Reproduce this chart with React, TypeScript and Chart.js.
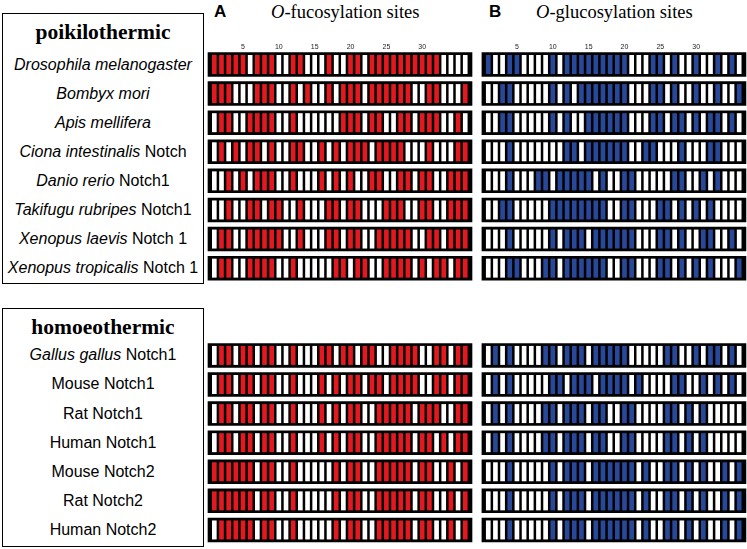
import React, { useEffect, useRef } from "react";
import { Chart, registerables } from "chart.js";
Chart.register(...registerables);

// ---------- data ----------
const CELL_COUNT = 36;
const TICK_VALUES = [5, 10, 15, 20, 25, 30];

const POIKILO_SPECIES = [
  "Drosophila melanogaster",
  "Bombyx mori",
  "Apis mellifera",
  "Ciona intestinalis",
  "Danio rerio",
  "Takifugu rubripes",
  "Xenopus laevis",
  "Xenopus tropicalis",
];
const POIKILO_SUFFIX = ["", "", "", "Notch", "Notch1", "Notch1", "Notch 1", "Notch 1"];

const HOMEO_SPECIES = ["Gallus gallus", "", "", "", "", "", ""];
const HOMEO_SUFFIX = [
  "Notch1",
  "Mouse Notch1",
  "Rat Notch1",
  "Human Notch1",
  "Mouse Notch2",
  "Rat Notch2",
  "Human Notch2",
];

// 1 = site present (coloured), 0 = absent (white)
const FUCO_POIKILO = [
  "111110111001100010011011111111110000",
  "111000111001010010111011111100110001",
  "011001111001000000111011001101110010",
  "010101101001100101011101111000100011",
  "001010111001000101010011001101100111",
  "001001101100100011011000111001100111",
  "011001111100100011011001111100110111",
  "011001111001000001101100111101011011",
];
const GLUCO_POIKILO = [
  "100110000101111111110001101001001010",
  "001100000101011111110001101001001001",
  "001100000101001111110001101101011010",
  "000100000001101111110011000100011000",
  "000100011011111010011000001100101000",
  "001100000111111110011000110101010000",
  "000100000101110111111000110100110010",
  "000110001101111110011000110101010001",
];
const FUCO_HOMEO = [
  "011011011001000110110110011110011011",
  "011011011001000101011011011110011011",
  "011011011001000101011001111101110011",
  "011011011001000101011001111101101011",
  "111111011001000001011001111101100101",
  "111111011001000001011001111101100101",
  "011111011001000001011001111101100101",
];
const GLUCO_HOMEO = [
  "010100001101110111110000011001011010",
  "010100000110111011110100001100101010",
  "010100001101110110011000011010100000",
  "010100001101110110011000011010100000",
  "000100000101110111111010011010100101",
  "000100000101110111111010011010100101",
  "000100000101110111111010011010100101",
];

// ---------- geometry helpers (layout only) ----------
const POIKILO_ROWS = POIKILO_SPECIES.map((_, i) => i);
const HOMEO_ROWS = HOMEO_SUFFIX.map((_, i) => i + 10);
const PANEL_B_OFFSET = 38.21;
const Y_MIN = -0.43;
const Y_MAX = 16.655;
const CANVAS_TOP = 36;
const AXIS_H = 16;
const CANVAS_H = 513;
const PX_PER_ROW = (CANVAS_H - AXIS_H) / (Y_MAX - Y_MIN);
const rowPx = (r: number) => CANVAS_TOP + AXIS_H + (r - Y_MIN) * PX_PER_ROW;

const RED = "#e3191f";
const BLUE = "#28489a";

function buildDatasets() {
  const boxes: any[] = [];
  const red: any[] = [];
  const blue: any[] = [];
  const white: any[] = [];
  const addPanel = (rows: string[], rowIdx: number[], offset: number, target: any[]) => {
    rows.forEach((s, k) => {
      const r = rowIdx[k];
      boxes.push({ x: 18.53 + offset, y: [r - 0.41, r + 0.41] });
      for (let c = 0; c < CELL_COUNT; c++) {
        const pt = { x: c + 1 + offset, y: [r - 0.315, r + 0.315] };
        if (s[c] === "1") target.push(pt);
        else white.push(pt);
      }
    });
  };
  addPanel(FUCO_POIKILO, POIKILO_ROWS, 0, red);
  addPanel(FUCO_HOMEO, HOMEO_ROWS, 0, red);
  addPanel(GLUCO_POIKILO, POIKILO_ROWS, PANEL_B_OFFSET, blue);
  addPanel(GLUCO_HOMEO, HOMEO_ROWS, PANEL_B_OFFSET, blue);
  return [
    { label: "box", data: boxes, backgroundColor: "#000", barThickness: 264, order: 3 },
    { label: "fucose", data: red, backgroundColor: RED, barThickness: 4, order: 1 },
    { label: "glucose", data: blue, backgroundColor: BLUE, barThickness: 4, order: 1 },
    { label: "none", data: white, backgroundColor: "#ffffff", barThickness: 4, order: 1 },
  ];
}

function GridChart() {
  const ref = useRef<HTMLCanvasElement | null>(null);
  useEffect(() => {
    if (!ref.current) return;
    const tickPositions = [
      ...TICK_VALUES,
      ...TICK_VALUES.map((t) => t + PANEL_B_OFFSET),
    ];
    const chart = new Chart(ref.current, {
      type: "bar",
      data: { datasets: buildDatasets() as any },
      options: {
        animation: false,
        responsive: false,
        devicePixelRatio: 1,
        layout: { padding: 0 },
        plugins: { legend: { display: false }, tooltip: { enabled: false } },
        datasets: { bar: { grouped: false } } as any,
        scales: {
          x: {
            type: "linear",
            position: "top",
            min: -0.3,
            max: 75.3,
            offset: false,
            grid: { display: false, drawTicks: false },
            border: { display: false },
            afterBuildTicks: (scale: any) => {
              scale.ticks = tickPositions.map((v) => ({ value: v }));
            },
            afterFit: (scale: any) => {
              scale.height = AXIS_H;
            },
            ticks: {
              autoSkip: false,
              maxRotation: 0,
              padding: 1,
              color: "#222",
              font: { family: "Liberation Sans, Arial", size: 7 },
              callback: (v: any) => {
                const n = Number(v);
                return String(Math.round(n > 37 ? n - PANEL_B_OFFSET : n));
              },
            },
          },
          y: {
            type: "linear",
            display: false,
            reverse: true,
            min: Y_MIN,
            max: Y_MAX,
          },
        },
      },
    });
    return () => chart.destroy();
  }, []);
  return (
    <canvas
      ref={ref}
      width={542}
      height={CANVAS_H}
      style={{ position: "absolute", left: 205, top: CANVAS_TOP, width: 542, height: CANVAS_H }}
    />
  );
}

const sans = "'Liberation Sans', Arial, sans-serif";
const serif = "'Liberation Serif', 'Times New Roman', serif";

function Label({ y, italic, plain }: { y: number; italic: string; plain: string }) {
  return (
    <div
      style={{
        position: "absolute",
        left: 2,
        width: 202,
        top: y - 11,
        height: 22,
        lineHeight: "22px",
        textAlign: "center",
        fontFamily: sans,
        fontSize: 16,
        color: "#000",
        whiteSpace: "nowrap",
      }}
    >
      {italic ? <i>{italic}</i> : null}
      {italic && plain ? " " : null}
      {plain}
    </div>
  );
}

export default function App() {
  return (
    <div
      style={{
        position: "absolute",
        left: 0,
        top: 0,
        width: 747,
        height: 549,
        background: "#fff",
        overflow: "hidden",
      }}
    >
      {/* left group boxes */}
      <div style={{ position: "absolute", left: 2, top: 13, width: 202, height: 271, border: "1.5px solid #000", boxSizing: "border-box" }} />
      <div style={{ position: "absolute", left: 2, top: 308, width: 202, height: 239, border: "1.5px solid #000", boxSizing: "border-box" }} />
      <div style={{ position: "absolute", left: 2, width: 202, top: 19, height: 26, lineHeight: "26px", textAlign: "center", fontFamily: serif, fontWeight: "bold", fontSize: 21.5 }}>
        poikilothermic
      </div>
      <div style={{ position: "absolute", left: 2, width: 202, top: 314, height: 26, lineHeight: "26px", textAlign: "center", fontFamily: serif, fontWeight: "bold", fontSize: 21.5 }}>
        homoeothermic
      </div>
      {POIKILO_SPECIES.map((s, i) => (
        <Label key={"p" + i} y={rowPx(POIKILO_ROWS[i])} italic={s} plain={POIKILO_SUFFIX[i]} />
      ))}
      {HOMEO_SUFFIX.map((s, i) => (
        <Label key={"h" + i} y={rowPx(HOMEO_ROWS[i])} italic={HOMEO_SPECIES[i]} plain={s} />
      ))}

      {/* panel headers */}
      <div style={{ position: "absolute", left: 214, top: 1, lineHeight: "22px", fontFamily: sans, fontWeight: "bold", fontSize: 17 }}>A</div>
      <div style={{ position: "absolute", left: 271, top: 1, lineHeight: "22px", fontFamily: serif, fontSize: 18.5 }}>
        <i>O</i>-fucosylation sites
      </div>
      <div style={{ position: "absolute", left: 489, top: 1, lineHeight: "22px", fontFamily: sans, fontWeight: "bold", fontSize: 17 }}>B</div>
      <div style={{ position: "absolute", left: 536, top: 1, lineHeight: "22px", fontFamily: serif, fontSize: 18.5 }}>
        <i>O</i>-glucosylation sites
      </div>

      <GridChart />
    </div>
  );
}
